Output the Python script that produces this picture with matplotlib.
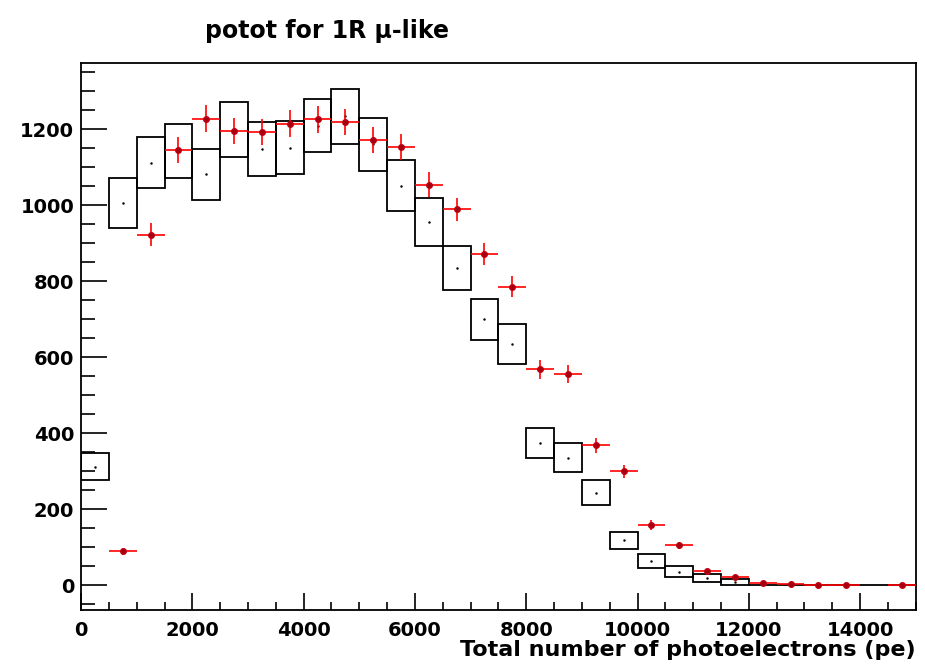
import numpy as np
import matplotlib
matplotlib.use("Agg")
import matplotlib.pyplot as plt
from matplotlib.ticker import MultipleLocator

plt.rcParams["font.family"] = ["DejaVu Sans"]

# 30 bins of 500 pe from 0 to 15000
bin_edges = np.arange(0, 15001, 500)
bin_centers = bin_edges[:-1] + 250

# MC prediction (box centre and half-height of the error box)
mc_values = [312, 1007, 1112, 1143, 1081, 1200, 1148, 1152, 1209, 1234,
             1160, 1052, 957, 836, 700, 635, 375, 336, 243, 118,
             64, 36, 20, 8, 0, 0, 0, 0, 0, 0]
mc_errors = [36, 66, 67, 70, 67, 72, 70, 70, 70, 72,
             70, 66, 63, 58, 54, 53, 40, 38, 33, 22,
             18, 14, 11, 8, 0, 0, 0, 0, 0, 0]

# data points (nan = empty bin)
data_values = [np.nan, 89, 923, 1146, 1228, 1196, 1193, 1215, 1226, 1219,
               1173, 1153, 1054, 989, 872, 786, 568, 555, 368, 300,
               158, 105, 38, 21, 7, 4, 1, 1, np.nan, 1]

mc = np.array(mc_values, dtype=float)
mc_err = np.array(mc_errors, dtype=float)
data = np.array(data_values, dtype=float)

fig = plt.figure(figsize=(9.25, 6.71), dpi=100)
ax = fig.add_axes([0.0876, 0.0909, 0.9024, 0.815])

# MC error boxes
ax.bar(bin_centers, 2 * mc_err, width=500, bottom=mc - mc_err,
       fill=False, edgecolor="black", linewidth=1.3, zorder=2)
ax.plot(bin_centers[mc > 0], mc[mc > 0], ".", color="black", markersize=1.5, zorder=3)

# data with poisson errors
ok = ~np.isnan(data)
ax.errorbar(bin_centers[ok], data[ok], xerr=250, yerr=np.sqrt(data[ok]),
            fmt="o", color="red", ecolor="red", elinewidth=1.2,
            markersize=4, markerfacecolor="#a00010", markeredgecolor="#c00010",
            capsize=0, zorder=4)

ax.set_xlim(0, 15000)
ax.set_ylim(-65, 1374)

ax.xaxis.set_major_locator(MultipleLocator(2000))
ax.xaxis.set_minor_locator(MultipleLocator(500))
ax.yaxis.set_major_locator(MultipleLocator(200))
ax.yaxis.set_minor_locator(MultipleLocator(50))

ax.tick_params(axis="y", which="major", direction="in", length=19, width=1.2,
               labelsize=14, pad=5)
ax.tick_params(axis="y", which="minor", direction="in", length=10, width=1.2)
ax.tick_params(axis="x", which="major", direction="in", length=12, width=1.2,
               labelsize=14, pad=8)
ax.tick_params(axis="x", which="minor", direction="in", length=5.5, width=1.2)
for lab in ax.get_xticklabels() + ax.get_yticklabels():
    lab.set_fontweight("bold")

for s in ax.spines.values():
    s.set_linewidth(1.3)

ax.set_xlabel("Total number of photoelectrons (pe)", fontsize=16,
              fontweight="bold", loc="right", labelpad=0)

fig.text(0.2216, 0.943, "potot for 1R \u03bc-like", fontsize=17,
         fontweight="bold", ha="left", va="baseline")

fig.savefig("out.png", dpi=100)
